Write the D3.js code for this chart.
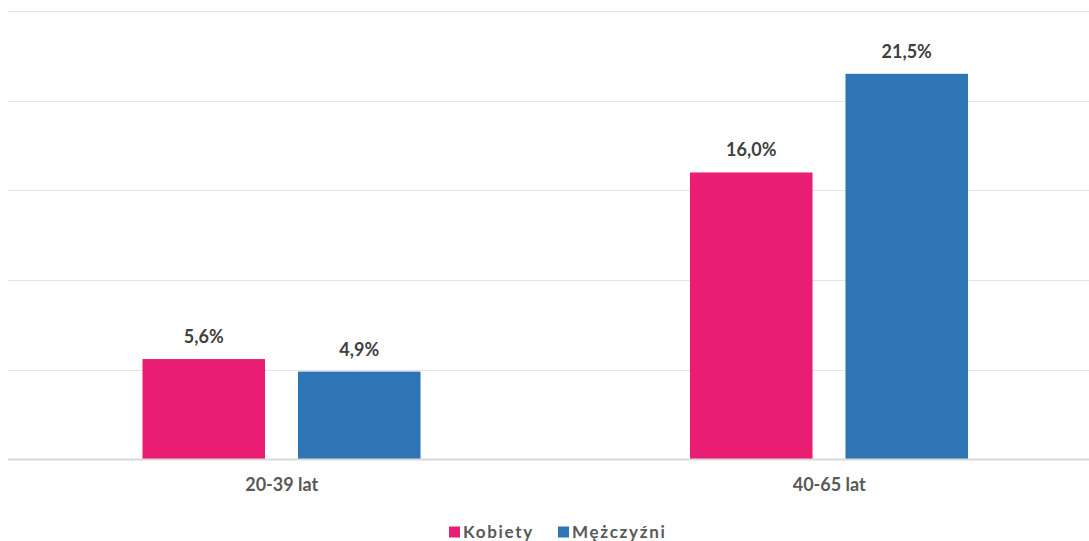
<!DOCTYPE html>
<html><head><meta charset="utf-8">
<script src="https://cdn.jsdelivr.net/npm/d3@7"></script>
<style>
html,body{margin:0;padding:0;background:#fff;}
svg{display:block;font-family:Lato,"Open Sans",sans-serif;}
</style></head>
<body>
<svg id="chart" width="1089" height="541"></svg>
<script>
const categories = ["20-39 lat", "40-65 lat"];
const seriesNames = ["Kobiety", "Mężczyźni"];
const kobiety = [5.6, 16.0];
const mezczyzni = [4.9, 21.5];
const yTicks = [0, 5, 10, 15, 20, 25];
const colors = ["#E91E73", "#2E75B6"];

const seriesValues = [kobiety, mezczyzni];
const svg = d3.select("#chart");
const W = 1089;

const y = d3.scaleLinear().domain([0, 25]).range([459.5, 11]);
const x0 = d3.scaleBand().domain(categories).range([8, 1103]).padding(0);
const x1 = d3.scaleBand().domain(seriesNames).range([134.5, 412.5]).paddingInner(0.212).paddingOuter(0);

// gridlines
svg.append("g").selectAll("line").data(yTicks.filter(t => t > 0)).join("line")
  .attr("x1", 8).attr("x2", W)
  .attr("y1", d => Math.round(y(d)) + 0.5).attr("y2", d => Math.round(y(d)) + 0.5)
  .attr("stroke", "#e3e3e3").attr("stroke-width", 1);

// bars
const groups = svg.append("g").selectAll("g").data(categories).join("g")
  .attr("transform", d => `translate(${x0(d)},0)`);

groups.each(function(cat, ci) {
  const g = d3.select(this);
  seriesNames.forEach((s, si) => {
    const v = seriesValues[si][ci];
    g.append("rect")
      .attr("x", x1(s)).attr("width", x1.bandwidth())
      .attr("y", y(v)).attr("height", y(0) - y(v))
      .attr("fill", colors[si]);
    g.append("text")
      .attr("x", x1(s) + x1.bandwidth() / 2)
      .attr("y", y(v) - 16)
      .attr("text-anchor", "middle")
      .attr("font-size", 18).attr("font-weight", 700)
      .attr("fill", "#404040")
      .text(d3.format(".1f")(v).replace(".", ",") + "%");
  });
});

// baseline
svg.append("line").attr("x1", 8).attr("x2", W)
  .attr("y1", y(0)).attr("y2", y(0))
  .attr("stroke", "#d9d9d9").attr("stroke-width", 2);

// category labels
const xAxis = d3.axisBottom(x0).tickSize(0).tickPadding(0);
const ax = svg.append("g").attr("transform", `translate(0,${y(0)})`).call(xAxis);
ax.select(".domain").remove();
ax.selectAll("text").attr("dy", null).attr("y", 31)
  .attr("font-family", "Lato, sans-serif")
  .attr("font-size", 18).attr("font-weight", 700).attr("fill", "#595959");

// legend
const legend = svg.append("g");
const legendItems = [{name: seriesNames[0], x: 449}, {name: seriesNames[1], x: 558}];
legendItems.forEach((it, i) => {
  legend.append("rect").attr("x", it.x).attr("y", 526.5).attr("width", 11).attr("height", 11).attr("fill", colors[i]);
  legend.append("text").attr("x", it.x + 14).attr("y", 537.5)
    .attr("font-size", 17).attr("font-weight", 700).attr("fill", "#595959")
    .attr("letter-spacing", 1.7)
    .text(it.name);
});
</script>
</body></html>
